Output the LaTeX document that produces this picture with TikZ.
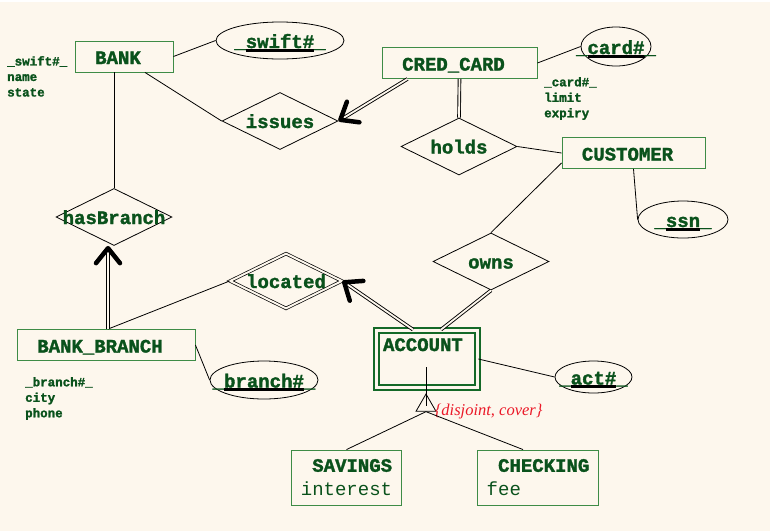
\documentclass[tikz,border=0pt]{standalone}
\usepackage{xcolor}
\usepackage{fontspec}
\usetikzlibrary{shapes.geometric,arrows.meta}

\newfontfamily\ermono[BoldFeatures={FakeBold=1.6}]{Liberation Mono}
\newfontfamily\erserif{Liberation Serif}
\definecolor{cream}{RGB}{253,247,237}
\definecolor{textgreen}{RGB}{10,82,28}
\definecolor{boxgreen}{RGB}{62,140,70}
\definecolor{weakgreen}{RGB}{20,105,40}
\definecolor{isared}{RGB}{235,25,40}
\newcommand{\keyul}[1]{\_\setbox0\hbox{#1}\rlap{\color{black}\rule[-3.5pt]{\wd0}{3pt}}\box0\_}

\begin{document}
\begin{tikzpicture}[x=1pt, y=-1pt,
  ebase/.style={draw=boxgreen, line width=0.9pt, inner sep=0pt, text=textgreen,
    font=\ermono\bfseries\fontsize{19}{24}\selectfont},
  entity/.style={ebase, minimum height=31pt, text height=15pt, text depth=0pt,
    execute at begin node={\hspace*{-12pt}}},
  subclass/.style={ebase, align=left, inner xsep=9pt, minimum height=55pt},
  overlap/.style={execute at begin node={\hbox to 0pt\bgroup\hss},
    execute at end node={\hss\egroup}},
  rel/.style={draw, diamond, line width=0.8pt, minimum width=116pt, minimum height=57pt,
    inner sep=0pt, text=textgreen, text height=14pt, text depth=0pt,
    font=\ermono\bfseries\fontsize{19}{24}\selectfont, overlap},
  keyattr/.style={draw, ellipse, line width=0.8pt, inner sep=0pt, text=textgreen,
    text height=15pt, text depth=0pt, font=\ermono\bfseries\fontsize{19}{24}\selectfont, overlap},
  attrs/.style={anchor=north west, align=left, inner sep=0pt, text=textgreen,
    font=\ermono\bfseries\fontsize{12.5}{15.5}\selectfont},
  link/.style={line width=0.8pt},
  dlink/.style={double=cream, double distance=1.8pt, line width=0.9pt},
  toone/.style={dlink, -{Straight Barb[length=15pt, width=24pt, line width=4.5pt, round]}}
]
\fill[cream] (0,2) rectangle (770,531);
\useasboundingbox (0,0) rectangle (781,531);

% entities
\node[entity, minimum width=98pt] (bank) at (124,56.5) {BANK};
\node[entity, minimum width=155pt] (credcard) at (459.5,63) {CRED\_CARD};
\node[entity, minimum width=143pt] (customer) at (633.5,153) {CUSTOMER};
\node[entity, minimum width=178pt] (bankbranch) at (106,345) {BANK\_BRANCH};
\node[ebase, draw=weakgreen, line width=1.8pt, double=cream, double distance=3pt,
  minimum width=101pt, text width=88pt, align=left, text height=20.5pt,
  text depth=36.5pt] (account) at (427,359) {ACCOUNT};
\node[subclass, minimum width=109pt] (savings) at (346.5,477.5) {\hspace*{11.4pt}SAVINGS\\{\mdseries interest}};
\node[subclass, minimum width=120pt] (checking) at (538,477.5) {\hspace*{11.4pt}CHECKING\\{\mdseries fee}};

% relationships
\node[rel] (issues) at (280,121) {issues};
\node[rel] (holds) at (459,146.5) {holds};
\node[rel] (hasbranch) at (114,217) {hasBranch};
\node[rel, double=cream, double distance=2pt, line width=0.7pt,
  minimum width=112pt, minimum height=55pt] (located) at (286,281) {located};
\node[rel] (owns) at (491,261.5) {owns};

% key attributes
\node[keyattr, minimum width=128pt, minimum height=37pt] (swift) at (280,40.5) {\keyul{swift\#}};
\node[keyattr, minimum width=70pt, minimum height=39pt] (card) at (616,46.5) {\keyul{card\#}};
\node[keyattr, minimum width=90pt, minimum height=37pt] (ssn) at (683,219.5) {\keyul{ssn}};
\node[keyattr, minimum width=108pt, minimum height=38pt] (branch) at (264,380) {\keyul{branch\#}};
\node[keyattr, minimum width=77pt, minimum height=32pt] (act) at (593.5,377) {\keyul{act\#}};

% attribute lists
\node[attrs] (bankattrs) at (7,56) {\_swift\#\_\\name\\state};
\node[attrs] (cardattrs) at (544,77) {\_card\#\_\\limit\\expiry};
\node[attrs] (branchattrs) at (25,377) {\_branch\#\_\\city\\phone};

% isa
\node[draw, regular polygon, regular polygon sides=3, minimum size=23pt, inner sep=0pt,
  line width=0.8pt] (isa) at (426,405.5) {};
\node[anchor=west, inner sep=0pt, text=isared, font=\erserif\itshape\fontsize{16.5}{20}\selectfont]
  (isanote) at ([xshift=-2pt]isa.corner 3) {\{disjoint, cover\}};
\coordinate (acctail) at (426,367);

% connectors
\draw[link] (bank.east) -- (swift.west);
\draw[link] ([xshift=21pt]bank.south) -- (issues.west);
\draw[link] ([xshift=-10pt]bank.south) -- (hasbranch.north);
\draw[toone] ([xshift=-52pt]credcard.south) -- (issues.east);
\draw[link] (credcard.east) -- (card.west);
\draw[dlink] (credcard.south) -- (holds.north);
\draw[link] (holds.east) -- (customer.west);
\draw[link] (customer.south) -- (ssn.west);
\draw[link] ([yshift=6pt]customer.south west) -- (owns.north);
\draw[dlink] (owns.south) -- ([xshift=14pt]account.north);
\draw[toone] ([xshift=-14pt]account.north) -- (located.east);
\draw[link] ([xshift=2pt]bankbranch.north) -- (located.west);
\draw[toone] ([xshift=2pt]bankbranch.north) -- ([xshift=-6pt]hasbranch.south);
\draw[link] (bankbranch.east) -- (branch.west);
\draw[link] (account.east) -- (act.west);
\draw[link] (acctail) -- (isa.center);
\draw[link] (isa.side 2) -- (savings.north);
\draw[link] (isa.side 2) -- ([xshift=-15pt]checking.north);
\end{tikzpicture}
\end{document}
